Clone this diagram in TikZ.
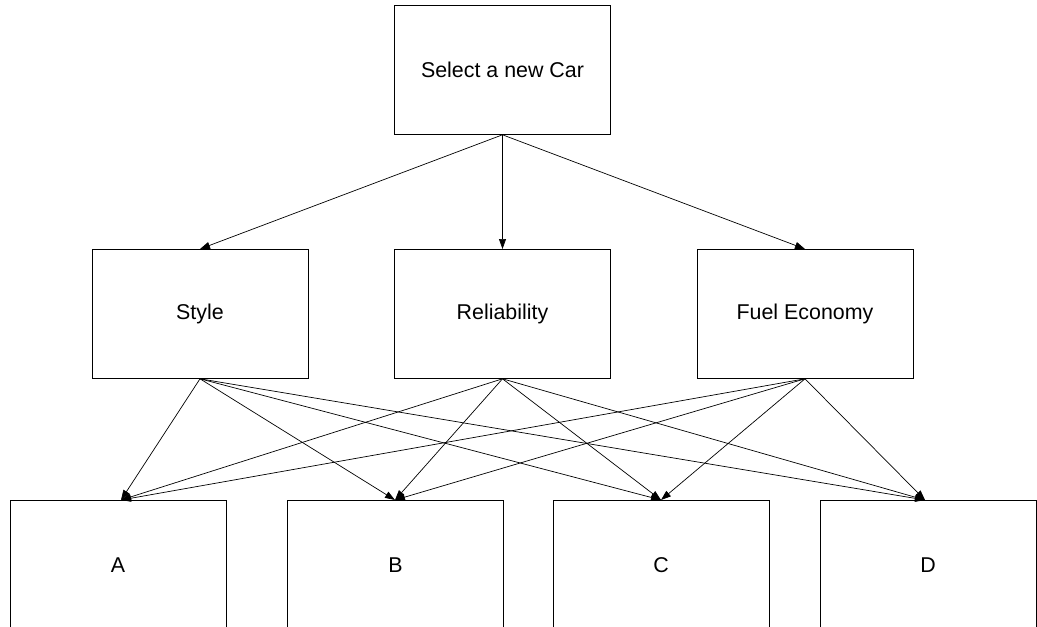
\documentclass[tikz,border=0pt]{standalone}
\usepackage{fontspec}
\setmainfont{Liberation Sans}
\usetikzlibrary{arrows.meta}
\begin{document}
\begin{tikzpicture}[x=1pt,y=-1pt,
  boxnode/.style={draw,line width=0.8pt,minimum width=216pt,minimum height=129pt,inner sep=0pt,font=\fontsize{21.4}{24}\selectfont,anchor=north},
  conn/.style={line width=0.7pt,-{Triangle[length=10pt,width=7pt]}}]
\clip (0,0) rectangle (1037,627);
\fill[white] (0,0) rectangle (1037,627);
\node[boxnode] (car) at (502.5,5) {Select a new Car};
\node[boxnode] (sty) at (200,249) {Style};
\node[boxnode] (rel) at (502.5,249) {Reliability};
\node[boxnode] (fue) at (805,249) {Fuel Economy};
\node[boxnode] (A) at (118,500) {A};
\node[boxnode] (B) at (395.5,500) {B};
\node[boxnode] (C) at (661,500) {C};
\node[boxnode] (D) at (928,500) {D};
\coordinate (tA) at (121,500);
\coordinate (tB) at (395,500);
\coordinate (tC) at (661,500);
\coordinate (tD) at (925,500);
\foreach \m in {sty,rel,fue}{
  \draw[conn] (car.south) -- (\m.north);
  \foreach \b in {tA,tB,tC,tD}{
    \draw[conn] (\m.south) -- (\b);
  }
}
\end{tikzpicture}
\end{document}
